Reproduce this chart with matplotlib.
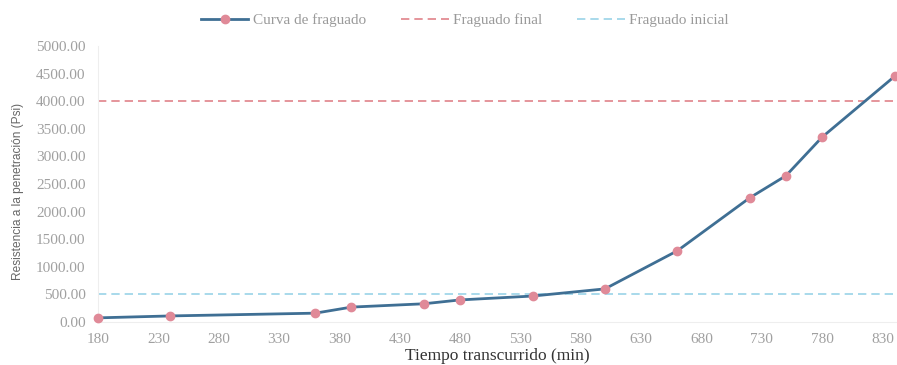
import matplotlib
matplotlib.use("Agg")
import matplotlib.pyplot as plt
from matplotlib.ticker import FormatStrFormatter

tiempo = [180, 240, 360, 390, 450, 480, 540, 600, 660, 720, 750, 780, 840]
resistencia = [75, 110, 160, 270, 330, 400, 470, 600, 1290, 2250, 2650, 3350, 4450]
fraguado_final = 4000
fraguado_inicial = 500
x_ticks = [180, 230, 280, 330, 380, 430, 480, 530, 580, 630, 680, 730, 780, 830]
y_ticks = [0, 500, 1000, 1500, 2000, 2500, 3000, 3500, 4000, 4500, 5000]

serif = ["Liberation Serif", "DejaVu Serif"]

fig = plt.figure(figsize=(8.97, 3.65), dpi=100)
ax = fig.add_axes([98/897, 1-322/365, 1-98/897, (322-46)/365])

xmin, xmax = 180, 842
ax.plot([xmin, xmax], [fraguado_final]*2, ls=(0, (5, 3)), color="#e0838a", lw=1.2,
        label="Fraguado final", zorder=2)
ax.plot([xmin, xmax], [fraguado_inicial]*2, ls=(0, (5, 3)), color="#9ad3e8", lw=1.2,
        label="Fraguado inicial", zorder=2)
ax.plot(tiempo, resistencia, color="#3f6f94", lw=2, marker="o", ms=6,
        markerfacecolor="#e08a98", markeredgecolor="#e08a98",
        label="Curva de fraguado", zorder=3, clip_on=False)

ax.set_xlim(xmin, xmax)
ax.set_ylim(0, 5000)
ax.set_xticks(x_ticks)
ax.set_yticks(y_ticks)
ax.yaxis.set_major_formatter(FormatStrFormatter("%.2f"))

for s in ["top", "right"]:
    ax.spines[s].set_visible(False)
ax.spines["left"].set_color("#eeeeee")
ax.spines["bottom"].set_color("#eeeeee")
ax.tick_params(length=0, colors="#a0a0a0", labelsize=11)
ax.tick_params(axis="y", pad=9)
ax.tick_params(axis="x", pad=8)
for lab in ax.get_xticklabels() + ax.get_yticklabels():
    lab.set_fontfamily(serif)

ax.set_xlabel("Tiempo transcurrido (min)", fontfamily=serif, fontsize=12.5,
              color="#333333", labelpad=1)
ax.set_ylabel("Resistencia a la penetración (Psi)",
              fontfamily=["Liberation Sans", "DejaVu Sans"],
              fontsize=8.6, color="#666666")
ax.yaxis.set_label_coords(-0.092, 0.473)

handles, labels = ax.get_legend_handles_labels()
order = [2, 0, 1]
leg = fig.legend([handles[i] for i in order], [labels[i] for i in order],
                 loc="center", bbox_to_anchor=(465/897, 1-20/365), ncol=3,
                 frameon=False, prop={"family": serif, "size": 11},
                 handlelength=3.1, columnspacing=2.3, handletextpad=0.3)
for t in leg.get_texts():
    t.set_color("#9a9a9a")

fig.savefig("out.png", dpi=100)
